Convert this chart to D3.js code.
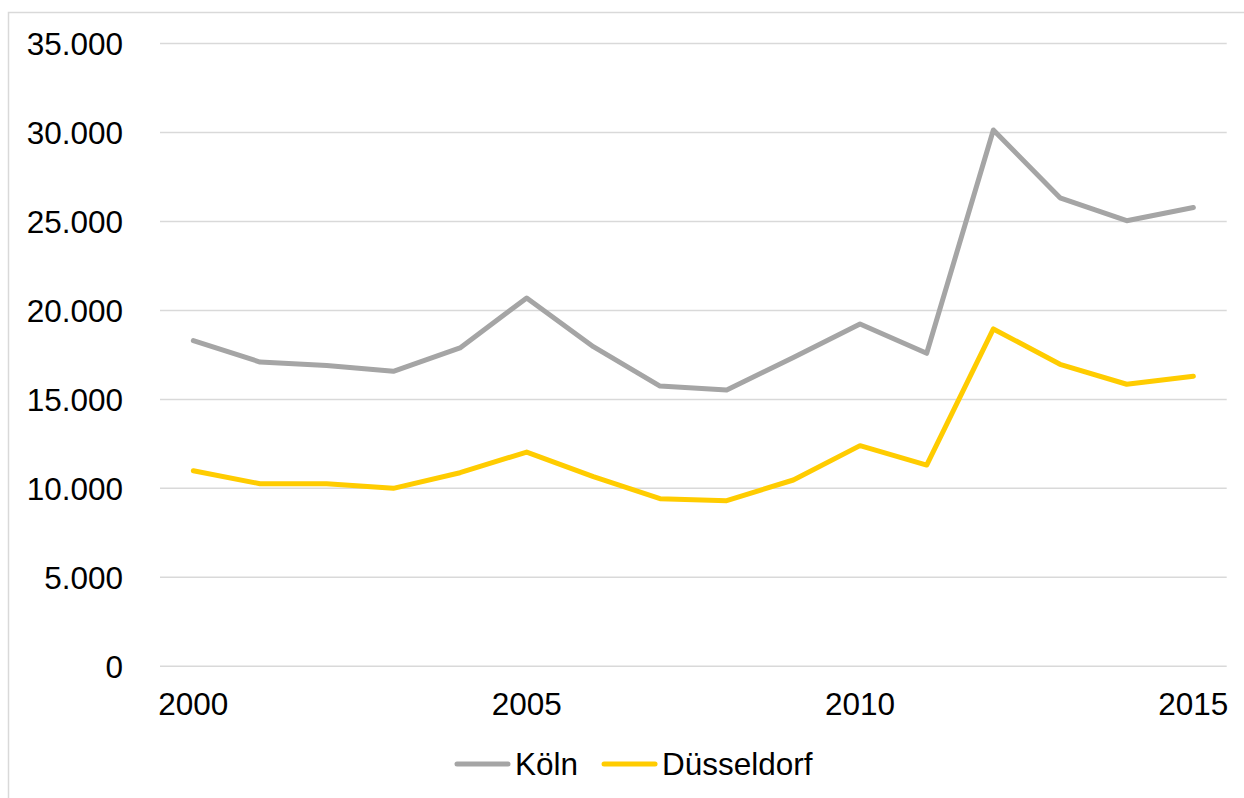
<!DOCTYPE html>
<html>
<head>
<meta charset="utf-8">
<script src="https://cdn.jsdelivr.net/npm/d3@7"></script>
<style>
  html, body { margin: 0; padding: 0; background: #fff; }
  svg { display: block; }
  text { font-family: "Liberation Sans", Arial, sans-serif; fill: #000; }
</style>
</head>
<body>
<svg id="chart" width="1244" height="798"></svg>
<script>
// Years on the category axis
const years = [2000, 2001, 2002, 2003, 2004, 2005, 2006, 2007,
               2008, 2009, 2010, 2011, 2012, 2013, 2014, 2015];
// Values per city
const koeln = [18300, 17100, 16900, 16580, 17890, 20700, 17960, 15750,
               15530, 17360, 19240, 17590, 30140, 26330, 25040, 25780];
const duesseldorf = [10990, 10260, 10260, 10000, 10880, 12040, 10660, 9420,
                     9310, 10470, 12400, 11310, 18960, 16970, 15850, 16300];
// Y tick values and the labelled years
const yTicks = [0, 5000, 10000, 15000, 20000, 25000, 30000, 35000];
const xTickLabels = [2000, 2005, 2010, 2015];
const seriesNames = ["Köln", "Düsseldorf"];
const seriesColors = ["#A5A5A5", "#FFCC00"];

const series = [
  { name: seriesNames[0], color: seriesColors[0], values: koeln },
  { name: seriesNames[1], color: seriesColors[1], values: duesseldorf }
];

const svg = d3.select("#chart");
const W = 1244, H = 798;
const fontSize = 31.5;

// German number format: 35.000
const de = d3.formatLocale({ decimal: ",", thousands: ".", grouping: [3], currency: ["", " €"] });
const fmt = de.format(",d");

// Outer chart border
svg.append("rect")
  .attr("x", 8.5).attr("y", 12.5)
  .attr("width", W + 20).attr("height", H + 20)
  .attr("fill", "#fff")
  .attr("stroke", "#D9D9D9").attr("stroke-width", 1.5);

const plot = { left: 160, right: 1226.7, top: 43.5, bottom: 666.3 };

const x = d3.scaleBand()
  .domain(years)
  .range([plot.left, plot.right]);
const xc = d => x(d) + x.bandwidth() / 2;

const y = d3.scaleLinear()
  .domain([0, 35000])
  .range([plot.bottom, plot.top]);

// Horizontal gridlines
svg.append("g")
  .selectAll("line")
  .data(yTicks)
  .join("line")
  .attr("x1", plot.left).attr("x2", plot.right)
  .attr("y1", d => y(d)).attr("y2", d => y(d))
  .attr("stroke", "#D9D9D9").attr("stroke-width", 1.5);

// Y axis labels
svg.append("g")
  .selectAll("text")
  .data(yTicks)
  .join("text")
  .attr("x", 123)
  .attr("y", d => y(d) + 11.3)
  .attr("text-anchor", "end")
  .attr("font-size", fontSize)
  .text(d => fmt(d));

// X axis labels
svg.append("g")
  .selectAll("text")
  .data(xTickLabels)
  .join("text")
  .attr("x", d => xc(d))
  .attr("y", 715)
  .attr("text-anchor", "middle")
  .attr("font-size", fontSize)
  .text(d => d);

// Lines
const line = d3.line()
  .x((d, i) => xc(years[i]))
  .y(d => y(d));

svg.append("g")
  .selectAll("path")
  .data(series)
  .join("path")
  .attr("d", d => line(d.values))
  .attr("fill", "none")
  .attr("stroke", d => d.color)
  .attr("stroke-width", 5)
  .attr("stroke-linejoin", "round")
  .attr("stroke-linecap", "round");

// Legend
const legend = svg.append("g");
let lx = 455;
series.forEach(s => {
  legend.append("line")
    .attr("x1", lx + 2).attr("x2", lx + 53)
    .attr("y1", 764).attr("y2", 764)
    .attr("stroke", s.color).attr("stroke-width", 5)
    .attr("stroke-linecap", "round");
  const t = legend.append("text")
    .attr("x", lx + 60).attr("y", 775)
    .attr("font-size", fontSize)
    .text(s.name);
  lx = lx + 60 + t.node().getComputedTextLength() + 24;
});
</script>
</body>
</html>
